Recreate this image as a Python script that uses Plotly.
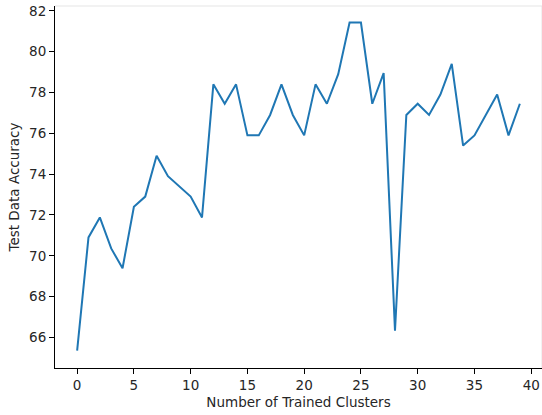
import plotly.graph_objects as go

clusters = list(range(40))
accuracy = [65.35, 70.9, 71.88, 70.36, 69.39, 72.4, 72.9, 74.9, 73.9, 73.4,
            72.9, 71.88, 78.4, 77.45, 78.4, 75.9, 75.9, 76.9, 78.4, 76.9,
            75.9, 78.4, 77.45, 78.9, 81.43, 81.43, 77.45, 78.95, 66.33, 76.9,
            77.45, 76.9, 77.9, 79.4, 75.4, 75.9, 76.9, 77.9, 75.9, 77.45]
x_ticks = [0, 5, 10, 15, 20, 25, 30, 35, 40]
y_ticks = [66, 68, 70, 72, 74, 76, 78, 80, 82]
x_title = "Number of Trained Clusters"
y_title = "Test Data Accuracy"

font = "DejaVu Sans"

fig = go.Figure()
fig.add_trace(go.Scatter(x=clusters, y=accuracy, mode="lines",
                         line=dict(color="#1f77b4", width=2)))

fig.update_layout(
    width=542, height=415,
    margin=dict(l=55, r=0, t=6, b=47),
    paper_bgcolor="white", plot_bgcolor="white",
    showlegend=False,
    font=dict(family=font, size=13.5, color="#262626"),
    xaxis=dict(range=[-1.95, 40.95], tickvals=x_ticks, ticks="outside", ticklen=5,
               tickcolor="black", showline=True, linecolor="black", linewidth=1,
               showgrid=False, zeroline=False, automargin=False,
               title=dict(text=x_title, standoff=5, font=dict(size=13.5))),
    yaxis=dict(range=[64.5, 82.24], tickvals=y_ticks, ticks="outside", ticklen=5,
               tickcolor="black", showline=True, linecolor="black", linewidth=1,
               showgrid=False, zeroline=False, automargin=False,
               title=dict(text=y_title, standoff=6, font=dict(size=13.5))),
    shapes=[
        dict(type="line", xref="paper", yref="paper", x0=0, x1=1, y0=1, y1=1,
             line=dict(color="#e5e5e5", width=1)),
        dict(type="line", xref="paper", yref="paper", x0=1, x1=1, y0=0, y1=1,
             line=dict(color="#e5e5e5", width=1)),
    ],
)

fig.write_html("out.html", config={"displayModeBar": False},
               post_script="document.body.style.margin='0';document.body.style.overflow='hidden';")
